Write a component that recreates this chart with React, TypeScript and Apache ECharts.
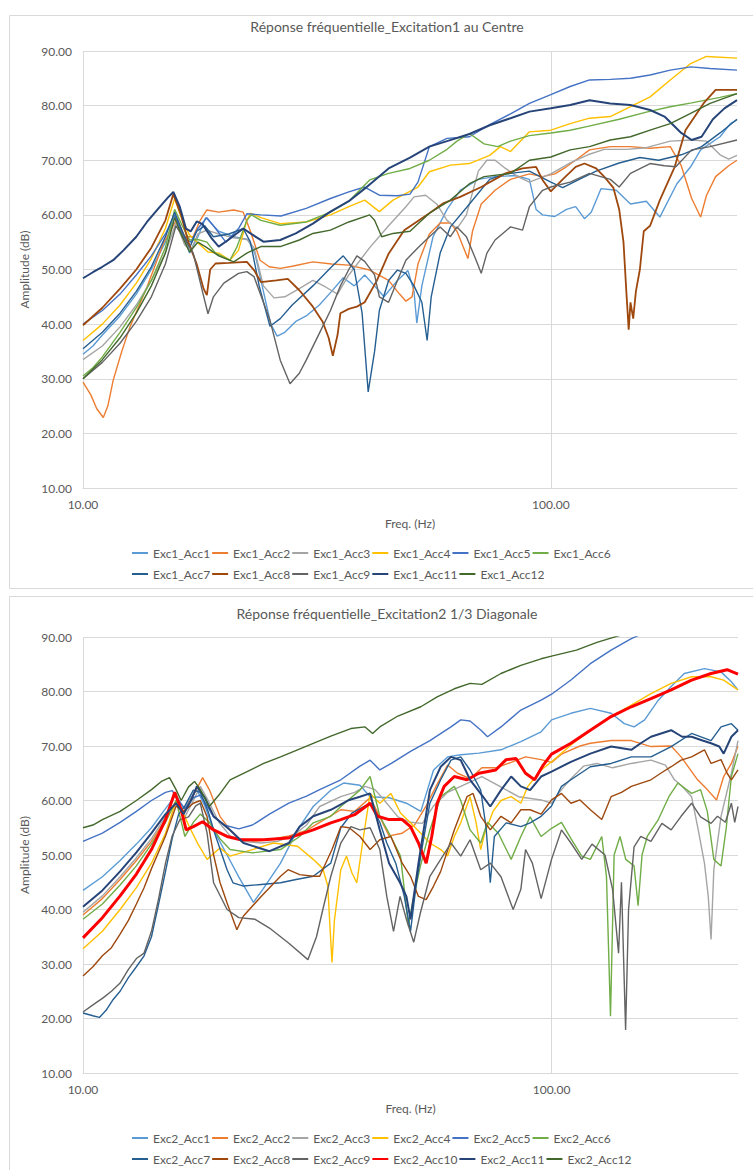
import React, { useEffect, useRef } from "react";
import * as echarts from "echarts";

type P = [number, number][];

// ---------- Excitation 1 (centre) ----------
const exc1Acc1: P = [[10,34.5],[10.5,36],[11,38],[12,41.5],[13,45.5],[14,50],[15,55],[15.7,59.5],[16.3,56.5],[16.9,53],[17.6,56],[18.3,59.5],[19.5,57],[21,56],[22.5,55.5],[23.3,53],[24.3,46],[25.2,40],[26,37.8],[27,38.5],[28.5,40.5],[30,41.5],[32,43.5],[34,46],[36,48.5],[38,47],[40,49],[42,47],[44,45],[47,48],[49.5,49.8],[51,46],[51.7,40.2],[53,47],[56,56],[60,61],[64,64.5],[70,66.5],[76,67],[84,67.2],[90,66.5],[93,61],[96,60],[102,59.7],[108,61],[113,61.5],[118,59.3],[122,60.5],[128,64.8],[138,64.5],[148,62],[160,62.5],[171,59.6],[186,65.7],[199,68.8],[209,71.9],[230,74.3],[242,76.7],[250,77.4]];
const exc1Acc2: P = [[10,29.4],[10.4,27],[10.7,24.5],[11.05,22.9],[11.3,25],[11.6,29.7],[12.1,35],[12.6,39.5],[13.2,43.5],[13.7,46.8],[14.3,51],[14.85,54.8],[15.9,59.3],[16.5,56],[17.2,56],[17.8,59],[18.4,60.9],[19.5,60.5],[21,60.9],[22,60.5],[22.8,57],[23.9,51.7],[25,50.5],[26.4,50.2],[28,50.6],[31,51.4],[34,51],[37,50.8],[41,49.9],[45,48],[47.5,45.5],[49,44.2],[50.5,45],[52,51],[55,56.5],[58,58.5],[61,58.5],[63,57],[66.5,52],[68,57],[71,62],[76,64.5],[82,66.5],[90,67.5],[96,67],[102,67.5],[108,68.8],[115,70.5],[121,71.9],[134,72.5],[148,72.5],[163,72.2],[180,72.5],[190,69],[200,63],[209,59.6],[215,63.5],[225,67],[240,69],[250,70]];
const exc1Acc3: P = [[10,33.5],[11,36],[12,39.5],[13,43.5],[14,48],[15,53],[15.8,58.5],[16.5,54.5],[17,53.5],[17.6,56.5],[18.4,57.2],[19.5,56.5],[21,55.8],[22.4,55.5],[23.2,54],[24.3,47],[25.6,44.8],[27,45],[29,46.5],[31,48],[33,46.8],[35,45.5],[37,49],[41,54],[45,58],[49,61.5],[51,63.3],[54,63.6],[57,62],[60,59],[63,57.5],[66,60],[70,68],[73,70],[76,70],[80,68.5],[85,67],[90,66],[100,67.5],[110,69.5],[120,71],[130,72],[145,72],[160,72.3],[180,73.5],[200,73.7],[215,73.5],[230,71],[240,70.2],[250,70.9]];
const exc1Acc4: P = [[10,37],[11,40],[12,43.5],[13,47.5],[14,52],[15,57.5],[15.7,63],[16.3,59],[16.9,56.3],[17.8,54.5],[18.5,53.2],[19.5,53],[20.6,51.7],[21.5,53.5],[22.4,59],[22.8,60.3],[24,59.5],[26.4,58.4],[30,58.7],[33.8,60],[37,61.5],[40,62.7],[43,60.6],[46,62.7],[52,65.1],[55,67.9],[61,69.1],[67,69.4],[74,70.9],[78,72.5],[82,71.6],[90,75.2],[100,75.5],[110,76.7],[121,77.7],[134,78],[148,79.8],[163,81.6],[180,84.7],[199,87.7],[215,89],[250,88.7]];
const exc1Acc5: P = [[10,40],[11,42.5],[12,45.5],[13,49],[14,52.5],[15,56.5],[15.7,60],[16.4,56],[17,55],[17.6,57.5],[18.4,59.5],[19.2,57.5],[20.2,55],[21.5,57.5],[22.4,60.2],[24,60],[26.5,59.8],[30,61.2],[33.8,63],[37,64.2],[40,65.1],[43,63.6],[47,63.5],[50,63.8],[52,66],[55,72.5],[60,74],[67,74.3],[74,76.5],[82,78.5],[90,80.4],[100,82],[110,83.5],[121,84.7],[134,84.8],[148,85],[163,85.6],[180,86.5],[199,87.1],[219,86.8],[250,86.5]];
const exc1Acc6: P = [[10,30.5],[10.5,32],[11,34],[12,38.5],[13,43],[14,48],[15,54],[15.7,61],[16.3,58],[16.9,55.4],[17.6,55.5],[18.4,55],[19.2,53],[20.6,51.7],[21.3,54],[22.4,59],[22.9,60],[24,59],[26.4,58.1],[30,58.7],[33.8,60.5],[37,62.5],[41,66.4],[45,67.6],[50,68.5],[55,70],[60,72],[63,73.5],[67,74.9],[72,73],[77,72.5],[82,73.5],[90,74.5],[100,75],[110,75.5],[120,76.2],[140,77.5],[160,78.8],[180,79.8],[200,80.5],[230,81.5],[250,82.2]];
const exc1Acc7: P = [[10,35.5],[11,38.5],[12,42],[13,46],[14,50.5],[15,56],[15.7,60.5],[16.3,57],[16.9,54],[17.5,57],[18.2,58],[19,56],[20.5,56.5],[22,57.5],[22.8,55],[23.8,47],[25.1,39.6],[26.4,41],[28,43.5],[31,47],[34,50.5],[36,52.5],[38,50],[39.5,42],[40.7,27.6],[42,35],[43,42.5],[45,48],[47,49.9],[49,49.3],[51,47],[53,44],[54.4,37],[55.5,45],[58,53],[61,57.8],[67,62],[74,66.5],[80,67.5],[90,68],[100,66],[106,65],[115,66.5],[125,68],[140,69.5],[155,70.5],[170,70],[190,71],[210,72.5],[230,75],[250,77.5]];
const exc1Acc8: P = [[10,39.8],[11,43],[12,46.5],[13,50],[14,54],[15,59],[15.6,63.8],[16.2,60],[16.8,55],[17.5,51],[18.1,46.5],[18.4,45.3],[18.7,50],[19.2,51.1],[20.5,51.2],[22.4,51.4],[23.2,49.9],[24,47.7],[25.9,48],[27.4,48.3],[29,46.2],[31,43.2],[32.5,40.5],[33.5,37.5],[34.2,34.2],[35,38],[35.5,42],[37,42.8],[38.5,43.2],[40,44],[42.5,48],[45,52.9],[48.6,57.2],[55,60.3],[58.8,62.1],[64,63.3],[71,65.1],[80,67.6],[87,68.5],[93,68.8],[96,66.4],[100,64.3],[106,66.5],[113,68.8],[118,69.4],[125,68.5],[130,67],[136,65],[140,61],[143,55],[145,46],[146.7,39],[148,44],[150,41],[152,46],[155,50],[158,57],[163,58],[171,62.7],[184,68.8],[194,75.5],[212,80.4],[225,82.9],[250,82.9]];
const exc1Acc9: P = [[10,30],[11,33],[12,36.5],[13,40.5],[14,45],[15,51],[15.8,58],[16.5,55.5],[17.2,53],[18,46],[18.5,41.9],[19,45],[20,47.5],[21.5,49.3],[22.4,49.6],[23.2,48.7],[24.3,44],[25.1,40.7],[26.4,33.4],[27.7,29.1],[29,31],[30,33.4],[32,38.3],[33.8,42.5],[35.5,47],[37,50],[38.5,52.5],[40,51.5],[42,49],[43,45],[45,44],[47,48],[49,51.7],[52,54],[55,56],[58,57.8],[61,56],[63,57.8],[66,56],[69,52],[71,49.3],[73,53],[76,55.4],[82,57.8],[87,57.2],[90,61.5],[96,64.5],[100,65.1],[110,66],[121,67.6],[134,66.5],[140,65.1],[148,67.6],[163,69.4],[175,69],[185,68.8],[200,71.9],[219,72.5],[250,73.7]];
const exc1Acc11: P = [[10,48.4],[10.5,49.5],[11,50.5],[11.6,51.7],[12.2,53.5],[13,56],[13.7,58.7],[14.5,61.2],[15.2,63.2],[15.6,64.2],[16.1,61.5],[16.6,57.5],[17,57],[17.5,58.8],[18,58.3],[18.8,55.8],[19.5,54.2],[20.5,55.5],[22,57.5],[22.8,56.6],[24.3,55.1],[26.4,55.4],[28.5,56.6],[31,58.4],[33.8,60.6],[37,62.5],[40,64.8],[45,68.5],[50,70.5],[55,72.5],[60,73.5],[67,74.8],[74,76.4],[82,77.7],[90,78.9],[100,79.5],[110,80.1],[121,81],[134,80.4],[148,80.1],[163,79.2],[175,78],[190,75],[200,73.7],[210,74.3],[222,77.5],[235,79.5],[250,81]];
const exc1Acc12: P = [[10,30],[11,33.5],[12,37.5],[13,42],[14,47],[15,53],[15.7,59.5],[16.3,56],[16.9,53.2],[17.6,55],[18.4,54],[19.5,52.5],[21,51.4],[22.4,53],[24,54.2],[26.4,54.2],[29,55.4],[31,56.6],[33.8,57.2],[37,58.7],[41,60],[42,59],[43.5,56],[46,56.6],[50,57],[55,60.3],[61,62.7],[67,65.7],[72,67],[82,67.6],[90,70],[100,70.6],[110,71.9],[121,72.5],[134,73.7],[148,74.3],[163,75.5],[180,76.7],[199,78.6],[219,80.4],[250,82.2]];

// ---------- Excitation 2 (1/3 diagonale) ----------
const exc2Acc1: P = [[10,43.5],[11,46],[12,49],[13,52],[14,55],[15,58.5],[15.8,61],[16.4,58.5],[17,60.5],[17.5,62],[18.2,59],[19,54.6],[20.3,50],[21.5,46],[23.1,41.3],[24.2,43.7],[26.4,48.5],[28.7,54.6],[31,58.9],[33.8,61.9],[36,63.2],[39,62.8],[41,60.7],[45,60.5],[49,59.5],[52.6,58],[56,65.6],[60,68],[64,68.4],[70,68.7],[78,69.3],[86,70.8],[95,72.6],[100,74.8],[110,76],[121,76.9],[134,76],[143,74.1],[150,73.5],[158,74.8],[169,78.4],[180,80.9],[192,83.3],[212,84.2],[230,83.6],[242,81.8],[250,80.3]];
const exc2Acc2: P = [[10,39],[11,42],[12,45.5],[13,49],[14,52.5],[15,56.5],[15.8,60],[16.4,58],[17.2,61],[18,64.2],[18.6,62],[19.6,57.1],[20.6,54.6],[21.7,52.8],[23,52.5],[25,52.8],[27.5,53.5],[30,54.5],[32,56],[35.5,58.3],[38,58],[41,60.5],[43,57],[45,53.5],[48,54],[51,55.5],[54,59],[57,63],[60,66.5],[63,65],[67,64],[71,66],[76,66],[82,67],[88,68],[95,67.5],[100,67],[105,68.5],[115,70],[121,70.5],[134,71],[148,71],[163,69.9],[180,70],[189,68],[205,63.8],[215,62],[225,60.1],[233,64.4],[242,66.8],[250,70]];
const exc2Acc3: P = [[10,39.5],[11,42.5],[12,46],[13,49.5],[14,53],[15,57],[15.8,59.5],[16.5,57],[17.2,60],[17.8,62.6],[18.5,60],[19.5,56],[20.6,53.5],[22,52.5],[24,52.2],[26,52.5],[28,53.5],[30,55.5],[32,58.9],[35.5,60.7],[38,61.5],[40,62.6],[42,62],[44,60],[47,57],[50,56],[53,55.8],[56,59],[60,61.5],[64,62.6],[71,64.4],[76,63],[85,60.7],[95,60.1],[100,59.5],[105,62],[110,64],[117,66.3],[125,66.8],[135,66],[148,66.8],[163,67.4],[175,66.5],[183,63.8],[190,62.6],[199,60.7],[205,55.2],[212,48.5],[216,42.4],[219,34.5],[222,47.3],[230,57.1],[242,65],[250,71]];
const exc2Acc4: P = [[10,32.8],[11,36],[12,40],[13,44],[14,48.5],[15,54],[15.8,60],[16.4,57.5],[16.9,55],[17.6,52],[18.4,49.2],[19.6,51.3],[20.6,49.8],[23,51],[25.5,52.2],[28.7,51.6],[31,49.2],[32.5,47.5],[33.3,44.3],[33.7,36],[34,30.3],[34.4,38],[35.5,47.3],[36.5,49.8],[37.5,46.7],[38.4,44.9],[39.5,52.2],[41,61.3],[43,59.5],[45.4,61.3],[47.6,57.7],[50,55.9],[52.6,54],[55,52.2],[58,51],[60,49.8],[62,53.4],[64,55.9],[67,60.7],[69,56],[70.6,51],[72,54],[75,58],[78,60],[82,60.7],[86,59.5],[89,62.6],[95,65.6],[100,67.1],[110,70.2],[121,72.9],[134,75.4],[148,77.5],[163,79.6],[180,81.5],[199,82.7],[219,82.7],[233,82.1],[250,80.3]];
const exc2Acc5: P = [[10,52.5],[11,54],[12,56],[13,58],[14,60],[15,61.5],[15.5,61.8],[16,60],[16.5,58.5],[17.2,60.5],[17.8,61],[18.4,59],[19,57],[20,55.5],[21.5,54.8],[23,55.5],[25,57.5],[27.5,59.5],[30,60.8],[32,62],[35.5,63.8],[39,66.3],[41,67.4],[43,65.6],[45.5,66.8],[50,69],[55,71],[61,73.5],[64,74.8],[67,74.6],[70.7,72.9],[73,71.7],[78,73.5],[86,76.6],[95,78.4],[100,79.5],[110,82.1],[121,85.1],[134,87.6],[148,89.7],[160,91],[200,94],[250,97]];
const exc2Acc6: P = [[10,38.2],[11,41],[12,44.5],[13,48],[14,52],[15,56],[15.8,60],[16.5,53.4],[17.2,56],[17.8,57.5],[18.6,56],[19.6,53],[20.6,51],[23,50.4],[26.4,51],[29,53.4],[31,55.9],[33.8,57.1],[35.5,58.9],[39,61.9],[41,64.4],[43,57.1],[45.4,53.4],[47.6,49.8],[49.5,37],[50.5,41.2],[52.5,48],[55,54.6],[58,60.7],[62,62.6],[64,60],[67,54.6],[70.6,52.2],[73,56],[77,54],[82,49.2],[86,53.4],[90,57],[95,53.4],[100,54.9],[105,56],[110,53],[116,49.8],[121,49.2],[128,53.4],[131,46],[133.6,20.4],[136,50],[140,53.4],[144,49.2],[150,48],[153,40.7],[156,50],[160,53.4],[169,56.5],[178,60.7],[186,63.2],[199,61.3],[208,62],[215,58],[222,49.2],[230,48],[236,55],[242,64.4],[250,68.6]];
const exc2Acc7: P = [[10,21],[10.5,20.5],[10.84,20.2],[11.2,21.5],[11.6,23.5],[12,25],[12.5,27.5],[13,29.5],[13.5,31.5],[14,35],[14.5,41],[15,47],[15.5,53],[16,57.5],[16.5,59],[17.2,61.9],[17.8,61.5],[18.5,58],[19,54.6],[20.3,47.3],[20.9,44.9],[22,44.3],[24,44.6],[26.4,44.9],[28.5,45.5],[31,46.1],[33.8,48.5],[35.5,55],[37.5,57.7],[41,59.5],[43,56],[44.5,52.2],[46.5,48.5],[48.5,42.4],[50,36],[51.5,45],[53,51.6],[55,59.5],[58,63.8],[61,67.4],[64,68],[67,65.6],[70.6,61.9],[72.5,55],[74,44.9],[75.5,53.4],[80,55.9],[86,55.2],[90,55.9],[95,57.1],[100,59],[105,62.6],[110,63.8],[121,66.2],[134,66.8],[148,68],[163,68],[180,69.9],[199,72.3],[219,71],[230,73.5],[242,74.1],[250,72.9]];
const exc2Acc8: P = [[10,27.8],[10.5,29.5],[11,31.5],[11.5,33],[12,35.5],[12.5,38],[13,41],[13.5,44],[14,47.5],[15,53.5],[15.8,59],[16.4,58],[17.2,59.5],[17.8,60],[18.4,57],[19,50],[19.6,45],[20.3,41.2],[21.3,36.3],[22,38.8],[24,42.4],[26.4,46.1],[27.4,47.3],[29,46.4],[31,46.1],[32,46.1],[34,51],[35.5,55.2],[37,55],[39,53.4],[41,51],[43,52.8],[45.4,53.4],[48,48.5],[50,46.1],[52,42.4],[54,41.8],[56,44.3],[58,47],[62,54.6],[66,60.7],[68,61.3],[70.6,57.1],[74,54.6],[78,57.1],[82,55.9],[86,58.3],[90,58.3],[95,57.5],[100,60.1],[105,61.3],[110,59.5],[115,60.1],[121,58.3],[128,56.5],[134,60.7],[141,61.5],[148,62.6],[163,63.8],[171,65],[180,66.2],[189,67.4],[199,68],[212,69.3],[219,66.8],[230,67.5],[237,65],[242,63.8],[250,65.6]];
const exc2Acc9: P = [[10,21.2],[10.5,22.5],[11,23.7],[11.5,25],[12,26.5],[12.5,29],[13,31],[13.5,32],[14,36],[14.5,42],[15,48.5],[15.5,53.5],[16.1,56.5],[16.8,57],[17.4,59],[17.8,59.5],[18.4,54],[19,44.9],[20.3,40],[21.5,38.5],[23.3,38.2],[25,36.6],[27.5,33.8],[30.2,30.8],[31.5,35],[32.5,40],[33.8,46.1],[35.5,52.2],[37.3,55.2],[39,54.6],[41,55],[43,51],[44.5,42.4],[46,36],[47.5,42.4],[49,38.2],[50.8,34],[52.5,39.4],[55,46.1],[58,49.2],[61,52.2],[64,49.8],[67,52.8],[70.6,47.3],[74,48.5],[78,46],[82.8,40],[86,43.7],[88,51],[91,48.5],[95,42],[100,49.2],[105,54.6],[110,52.2],[116,49.2],[122,52],[130,50],[135,43.7],[139,32],[141,45],[143.9,17.9],[146,40],[150,51.5],[155,53.4],[163,52.5],[172,55.8],[180,54.6],[189,57.1],[199,59.5],[208,57],[219,55.8],[226,57.1],[235,56],[242,59.5],[246,56],[250,58.9]];
const exc2Acc10: P = [[10,34.8],[11,38.5],[12,42.5],[13,46.5],[14,51],[15,56.5],[15.7,61.5],[16.2,58.3],[16.6,54.6],[17.2,55.2],[18,56.1],[19,54.6],[20.3,53.4],[21.7,52.8],[24.3,52.8],[27.4,53.1],[31,54.6],[33.8,55.9],[35.5,56.5],[38,57.4],[41,59.5],[42.5,57.1],[45,56.5],[48,56.5],[50,55.2],[52,52.2],[54,48.5],[55.5,53.4],[57,59.5],[59,62.6],[62,64.4],[66,63.8],[70,65],[76,65.6],[80,67.5],[84,67.7],[88,65],[92,63.8],[96,66.5],[100,68.5],[110,70.5],[121,72.9],[134,75.4],[148,77.2],[163,78.7],[180,80.3],[199,82.1],[219,83.3],[237,84],[250,83.2]];
const exc2Acc11: P = [[10,40.5],[11,43.5],[12,47],[13,50.5],[14,54],[15,57.5],[15.8,59.5],[16.4,57.5],[17,60],[17.5,62.6],[18.2,60.5],[19,57.1],[20.6,54.6],[22,52.2],[25,50.7],[27.5,52.2],[29,55.2],[31,57.1],[33.8,58.3],[37,60.1],[39,60.7],[41,61.3],[43,54.6],[45,48.5],[47.5,44.9],[49,42.4],[50,38.2],[52,48.5],[55,61.9],[58,66.2],[61,68],[64,67.4],[67,63.8],[71,61],[74,58.9],[78,61.9],[82,64.4],[86,62.6],[90,61.9],[95,64.4],[100,65.3],[110,67.1],[121,68.6],[134,69.9],[148,69.3],[155,70.5],[163,71.7],[180,72.9],[190,71.7],[199,71.7],[210,71],[219,70.5],[228,69.9],[233,68.6],[242,71.7],[250,72.9]];
const exc2Acc12: P = [[10,55],[10.5,55.5],[11,56.5],[12,58],[13,60],[14,62],[14.7,63.5],[15.3,64.2],[15.8,62],[16.2,60],[16.8,62.5],[17.3,63.5],[17.8,62],[18.6,58.9],[19.5,61],[20.6,63.8],[22.4,65.3],[24.3,66.8],[26.4,68],[28.7,69.3],[31,70.5],[33.8,71.8],[37.3,73.2],[40,73.5],[41.5,72.3],[43,73.5],[47,75.5],[52.6,77.2],[57,79],[62,80.5],[67,81.5],[71,81.3],[78,83.3],[86,84.8],[95,86],[100,86.5],[113,87.6],[125,89],[140,90.3],[160,92],[200,95],[250,98]];

const yTicks = { min: 10, max: 90, step: 10 };
const xRange = { min: 10, max: 250 };

const colors: Record<string, string> = {
  Acc1: "#5B9BD5", Acc2: "#ED7D31", Acc3: "#A5A5A5", Acc4: "#FFC000",
  Acc5: "#4472C4", Acc6: "#70AD47", Acc7: "#255E91", Acc8: "#9E480E",
  Acc9: "#636363", Acc10: "#FF0000", Acc11: "#264478", Acc12: "#43682B",
};

const top1: [string, P][] = [
  ["Acc1", exc1Acc1], ["Acc2", exc1Acc2], ["Acc3", exc1Acc3], ["Acc4", exc1Acc4],
  ["Acc5", exc1Acc5], ["Acc6", exc1Acc6], ["Acc7", exc1Acc7], ["Acc8", exc1Acc8],
  ["Acc9", exc1Acc9], ["Acc11", exc1Acc11], ["Acc12", exc1Acc12],
];
const bot2: [string, P][] = [
  ["Acc1", exc2Acc1], ["Acc2", exc2Acc2], ["Acc3", exc2Acc3], ["Acc4", exc2Acc4],
  ["Acc5", exc2Acc5], ["Acc6", exc2Acc6], ["Acc7", exc2Acc7], ["Acc8", exc2Acc8],
  ["Acc9", exc2Acc9], ["Acc10", exc2Acc10], ["Acc11", exc2Acc11], ["Acc12", exc2Acc12],
];

const FONT = 'Lato, "Liberation Sans", sans-serif';
const TXT = "#595959";
const GRID = "#d9d9d9";

function widthFor(exc: number, acc: string) {
  if (exc === 2 && acc === "Acc10") return 3;
  if (acc === "Acc11") return 2;
  if (exc === 1 && acc === "Acc8") return 1.8;
  return 1.4;
}

function buildOption() {
  const grids = [
    { left: 83, top: 51, width: 654, height: 437 },
    { left: 83, top: 637, width: 655, height: 436 },
  ];
  const xAxes = [0, 1].map((i) => ({
    type: "log", logBase: 10, gridIndex: i, min: xRange.min, max: xRange.max,
    axisLabel: { formatter: (v: number) => Number(v).toFixed(2), showMaxLabel: false, color: TXT, fontSize: 12, fontFamily: FONT, margin: 10 },
    splitLine: { show: true, showMaxLine: false, lineStyle: { color: GRID, width: 1 } },
    axisLine: { show: true, lineStyle: { color: GRID, width: 1 } },
    axisTick: { show: false },
    name: "Freq. (Hz)", nameLocation: "middle", nameGap: 29,
    nameTextStyle: { color: TXT, fontSize: 12, fontFamily: FONT },
  }));
  const yAxes = [0, 1].map((i) => ({
    type: "value", gridIndex: i, min: yTicks.min, max: yTicks.max, interval: yTicks.step,
    axisLabel: { formatter: (v: number) => v.toFixed(2), color: TXT, fontSize: 12, fontFamily: FONT, margin: 11 },
    splitLine: { show: true, lineStyle: { color: GRID, width: 1 } },
    axisLine: { show: false }, axisTick: { show: false },
    name: "Amplitude (dB)", nameLocation: "middle", nameGap: 46,
    nameTextStyle: { color: TXT, fontSize: 12, fontFamily: FONT },
  }));
  const series: any[] = [];
  top1.forEach(([acc, data]) => series.push({
    name: "Exc1_" + acc, type: "line", xAxisIndex: 0, yAxisIndex: 0, data,
    symbol: "none", clip: true, color: colors[acc],
    lineStyle: { width: widthFor(1, acc), color: colors[acc] },
  }));
  bot2.forEach(([acc, data]) => series.push({
    name: "Exc2_" + acc, type: "line", xAxisIndex: 1, yAxisIndex: 1, data,
    symbol: "none", clip: true, color: colors[acc],
    lineStyle: { width: widthFor(2, acc), color: colors[acc] },
  }));
  const legendBase = {
    left: 132, padding: 0, itemWidth: 16, itemHeight: 2, itemGap: 2, icon: "rect", selectedMode: false,
    textStyle: { color: TXT, fontSize: 12, fontFamily: FONT, width: 63, overflow: "none" },
  };
  const legends = [
    { ...legendBase, top: 547, data: top1.slice(0, 6).map(([a]) => "Exc1_" + a) },
    { ...legendBase, top: 568, data: top1.slice(6).map(([a]) => "Exc1_" + a) },
    { ...legendBase, top: 1132, data: bot2.slice(0, 6).map(([a]) => "Exc2_" + a) },
    { ...legendBase, top: 1153, data: bot2.slice(6).map(([a]) => "Exc2_" + a) },
  ];
  const titleStyle = { color: TXT, fontSize: 14, fontWeight: "normal", fontFamily: FONT };
  return {
    animation: false,
    backgroundColor: "#ffffff",
    title: [
      { text: "Réponse fréquentielle_Excitation1 au Centre", left: 387, top: 19, padding: 0, textAlign: "center", textStyle: titleStyle },
      { text: "Réponse fréquentielle_Excitation2 1/3 Diagonale", left: 387, top: 606, padding: 0, textAlign: "center", textStyle: titleStyle },
    ],
    graphic: [
      { type: "rect", shape: { x: 9.5, y: 15.5, width: 800, height: 573 }, style: { fill: "none", stroke: GRID, lineWidth: 1 }, silent: true },
      { type: "rect", shape: { x: 9.5, y: 596.5, width: 800, height: 700 }, style: { fill: "none", stroke: GRID, lineWidth: 1 }, silent: true },
    ],
    legend: legends,
    grid: grids,
    xAxis: xAxes,
    yAxis: yAxes,
    series,
  };
}

export default function App() {
  const ref = useRef<HTMLDivElement>(null);
  useEffect(() => {
    if (!ref.current) return;
    const chart = echarts.init(ref.current, undefined, { renderer: "svg" });
    chart.setOption(buildOption() as any);
    return () => chart.dispose();
  }, []);
  return (
    <div
      ref={ref}
      style={{ position: "absolute", left: 0, top: 0, width: 753, height: 1170, background: "#fff" }}
    />
  );
}
